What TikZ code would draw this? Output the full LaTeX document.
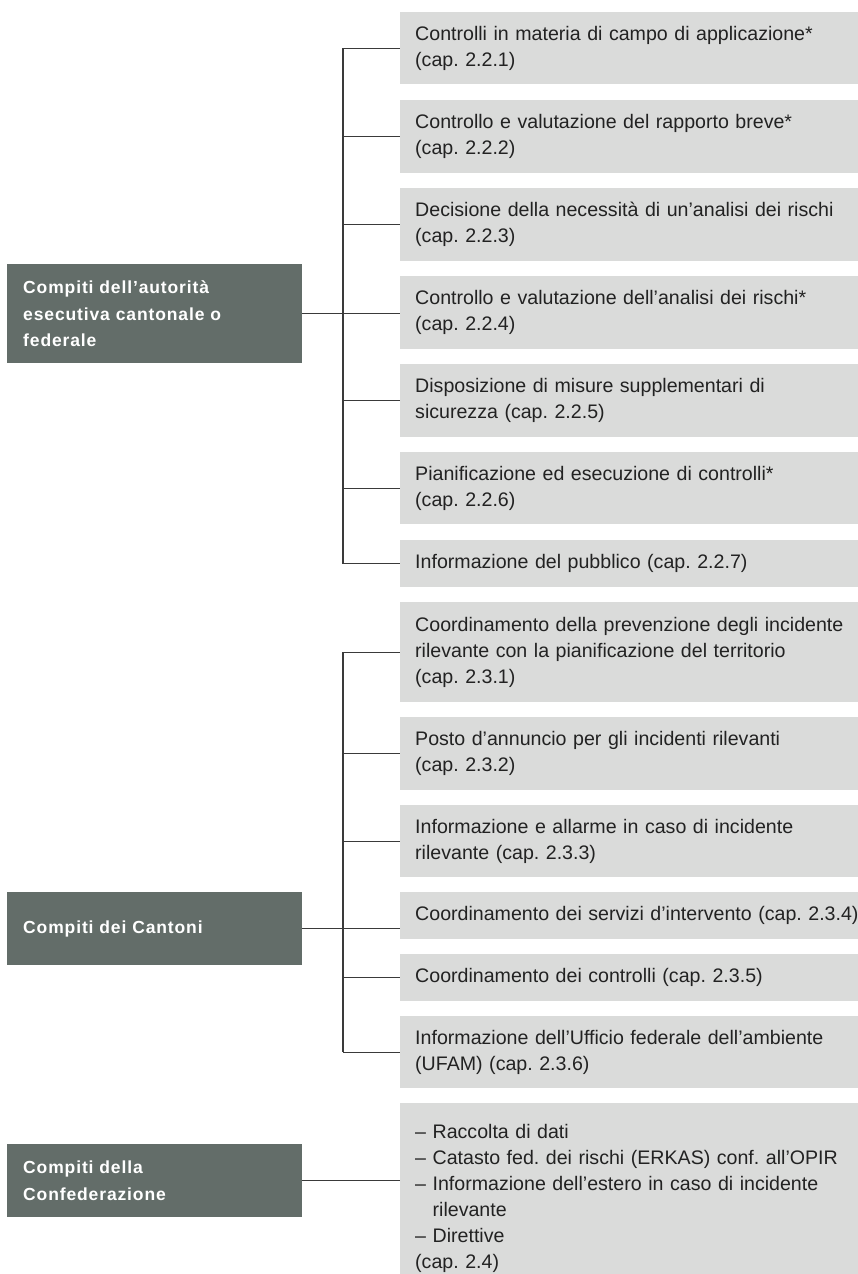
\documentclass[tikz,border=0pt]{standalone}
\usepackage{fontspec}
\setmainfont{Liberation Sans}
\newfontfamily\headfont[LetterSpace=5]{Liberation Sans}
\frenchspacing
\definecolor{lightbox}{HTML}{DADBDA}
\definecolor{darkbox}{HTML}{636D69}
\definecolor{linecol}{HTML}{3A3A3A}
\definecolor{textcol}{HTML}{222222}
\tikzset{
  rbox/.style={anchor=north west, fill=lightbox, text=textcol, align=left,
    text width=460pt, inner xsep=15pt, inner ysep=0pt,
    font=\frenchspacing\fontsize{19.6}{26}\selectfont},
  lbox/.style={anchor=north west, fill=darkbox, text=white, align=left,
    text width=263pt, inner xsep=16pt, inner ysep=0pt,
    font=\headfont\bfseries\fontsize{17.5}{26.5}\selectfont},
  conn/.style={draw=linecol, line width=1.4pt}
}
\begin{document}
\begin{tikzpicture}[x=1pt,y=-1pt]
\useasboundingbox (0,0) rectangle (857,1274);
% right boxes, group A
\node[rbox, minimum height=72pt] (A1) at (400,12) {Controlli in materia di campo di applicazione*\\(cap. 2.2.1)};
\node[rbox, minimum height=73pt] (A2) at (400,100) {Controllo e valutazione del rapporto breve*\\(cap. 2.2.2)};
\node[rbox, minimum height=73pt] (A3) at (400,188) {Decisione della necessità di un’analisi dei rischi\\(cap. 2.2.3)};
\node[rbox, minimum height=73pt] (A4) at (400,276) {Controllo e valutazione dell’analisi dei rischi*\\(cap. 2.2.4)};
\node[rbox, minimum height=73pt] (A5) at (400,364) {Disposizione di misure supplementari di\\sicurezza (cap. 2.2.5)};
\node[rbox, minimum height=72pt] (A6) at (400,452) {Pianificazione ed esecuzione di controlli*\\(cap. 2.2.6)};
\node[rbox, minimum height=47pt] (A7) at (400,540) {Informazione del pubblico (cap. 2.2.7)};
% right boxes, group B
\node[rbox, minimum height=100pt] (B1) at (400,602) {Coordinamento della prevenzione degli incidente\\rilevante con la pianificazione del territorio\\(cap. 2.3.1)};
\node[rbox, minimum height=73pt] (B2) at (400,717) {Posto d’annuncio per gli incidenti rilevanti\\(cap. 2.3.2)};
\node[rbox, minimum height=72pt] (B3) at (400,805) {Informazione e allarme in caso di incidente\\rilevante (cap. 2.3.3)};
\node[rbox, minimum height=47pt] (B4) at (400,892) {Coordinamento dei servizi d’intervento (cap. 2.3.4)};
\node[rbox, minimum height=47pt] (B5) at (400,954) {Coordinamento dei controlli (cap. 2.3.5)};
\node[rbox, minimum height=72pt] (B6) at (400,1016) {Informazione dell’Ufficio federale dell’ambiente\\(UFAM) (cap. 2.3.6)};
% right box, group C
\node[rbox, minimum height=191pt] (C1) at (400,1103) {– Raccolta di dati\\– Catasto fed. dei rischi (ERKAS) conf. all’OPIR\\– Informazione dell’estero in caso di incidente\\\hphantom{– }rilevante\\– Direttive\\(cap. 2.4)};
\fill[lightbox] (C1.south west) rectangle ++(470,-20);
% left boxes
\node[lbox, minimum height=99pt] (LA) at (7,264) {Compiti dell’autorità\\esecutiva cantonale o\\federale};
\node[lbox, minimum height=73pt] (LB) at (7,892) {Compiti dei Cantoni};
\node[lbox, minimum height=73pt] (LC) at (7,1144) {Compiti della\\Confederazione};
% trunks
\coordinate (tA) at (343,0);
\draw[conn] (A1.west -| tA) -- (A7.west -| tA);
\draw[conn] (B1.west -| tA) -- (B6.west -| tA);
\foreach \n in {A1,A2,A3,A5,A6,A7,B1,B2,B3,B5,B6}{
  \draw[conn] (\n.west -| tA) -- (\n.west);
}
\draw[conn] (LA.east) -- (LA.east -| A4.west);
\draw[conn] (LB.east) -- (LB.east -| B4.west);
\draw[conn] (LC.east) -- (LC.east -| C1.west);
\end{tikzpicture}
\end{document}
